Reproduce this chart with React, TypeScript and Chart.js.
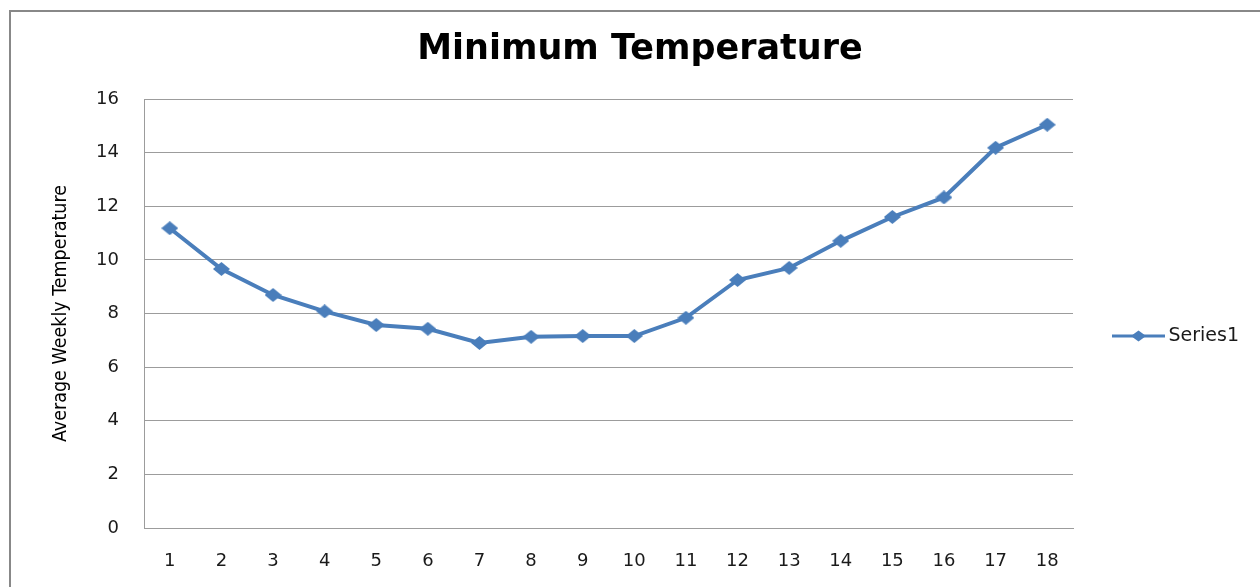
import { useEffect, useRef } from 'react';
import { Chart, registerables } from 'chart.js';

Chart.register(...registerables);

const chartTitle = 'Minimum Temperature';
const yAxisTitle = 'Average Weekly Temperature';
const seriesName = 'Series1';
const weeks = ['1', '2', '3', '4', '5', '6', '7', '8', '9', '10', '11', '12', '13', '14', '15', '16', '17', '18'];
const minTemps = [11.18, 9.66, 8.69, 8.08, 7.57, 7.43, 6.9, 7.13, 7.16, 7.16, 7.84, 9.25, 9.7, 10.71, 11.6, 12.33, 14.18, 15.04];
const yMin = 0;
const yMax = 16;
const yStep = 2;

const LINE = '#4a7ebb';
const GRID = '#9c9c9c';
const TICK_FONT = 'DejaVu Sans';

function makeDiamond(w: number, h: number): HTMLCanvasElement {
  const c = document.createElement('canvas');
  c.width = w;
  c.height = h;
  const ctx = c.getContext('2d')!;
  ctx.fillStyle = LINE;
  ctx.beginPath();
  ctx.moveTo(w / 2, 0);
  ctx.lineTo(w, h / 2);
  ctx.lineTo(w / 2, h);
  ctx.lineTo(0, h / 2);
  ctx.closePath();
  ctx.fill();
  return c;
}

function makeLegendMark(w: number, h: number): HTMLCanvasElement {
  const c = document.createElement('canvas');
  c.width = w;
  c.height = h;
  const ctx = c.getContext('2d')!;
  ctx.strokeStyle = LINE;
  ctx.lineWidth = 3;
  ctx.beginPath();
  ctx.moveTo(0, h / 2);
  ctx.lineTo(w, h / 2);
  ctx.stroke();
  const dw = 15;
  const dh = 11;
  ctx.fillStyle = LINE;
  ctx.beginPath();
  ctx.moveTo(w / 2, h / 2 - dh / 2);
  ctx.lineTo(w / 2 + dw / 2, h / 2);
  ctx.lineTo(w / 2, h / 2 + dh / 2);
  ctx.lineTo(w / 2 - dw / 2, h / 2);
  ctx.closePath();
  ctx.fill();
  return c;
}

export default function App() {
  const ref = useRef<HTMLCanvasElement | null>(null);

  useEffect(() => {
    if (!ref.current) return;
    const diamond = makeDiamond(17, 14);
    const legendMark = makeLegendMark(53, 14);
    const chart = new Chart(ref.current, {
      type: 'line',
      data: {
        labels: weeks,
        datasets: [
          {
            label: seriesName,
            data: minTemps,
            borderColor: LINE,
            backgroundColor: LINE,
            borderWidth: 4,
            pointStyle: diamond as any,
            pointRadius: 8,
            tension: 0,
          },
        ],
      },
      options: {
        animation: false,
        responsive: false,
        events: [],
        layout: { padding: { left: 35, right: 15, top: 0, bottom: 0 } },
        plugins: {
          tooltip: { enabled: false },
          title: {
            display: true,
            text: chartTitle,
            color: '#000',
            font: { family: TICK_FONT, size: 35, weight: 'bold', lineHeight: 1.2 },
            padding: { top: 29, bottom: 28 },
          },
          legend: {
            display: true,
            position: 'right',
            align: 'center',
            maxWidth: 172,
            title: {
              display: true,
              text: ' ',
              font: { size: 10, lineHeight: 1.2 },
              padding: 36.5,
            },
            labels: {
              usePointStyle: true,
              pointStyle: legendMark as any,
              pointStyleWidth: 41,
              padding: 45,
              color: '#1a1a1a',
              font: { family: TICK_FONT, size: 19 },
            },
          },
        },
        scales: {
          x: {
            type: 'category',
            offset: true,
            grid: { display: false, drawTicks: false },
            border: { display: true, color: GRID, width: 1 },
            ticks: {
              color: '#1a1a1a',
              padding: 23,
              maxRotation: 0,
              autoSkip: false,
              font: { family: TICK_FONT, size: 18 },
            },
            afterFit: (scale: any) => {
              scale.height = 59;
            },
          },
          y: {
            min: yMin,
            max: yMax,
            grid: { color: GRID, lineWidth: 1, drawTicks: false },
            border: { display: true, color: GRID, width: 1 },
            ticks: {
              stepSize: yStep,
              color: '#1a1a1a',
              padding: 25,
              font: { family: TICK_FONT, size: 18 },
            },
            title: {
              display: true,
              text: yAxisTitle,
              color: '#000',
              font: { family: '"Liberation Sans Narrow", "DejaVu Sans Condensed", "Liberation Sans"', size: 19.5, lineHeight: 1.2 },
              padding: { top: 14, bottom: 0 },
            },
            afterFit: (scale: any) => {
              scale.width = 109;
            },
          },
        },
      },
    });
    return () => chart.destroy();
  }, []);

  return (
    <div style={{ position: 'fixed', left: 0, top: 0, width: 1260, height: 587, overflow: 'hidden', background: '#fff' }}>
      <div
        style={{
          position: 'absolute',
          left: 9,
          top: 10,
          width: 1400,
          height: 800,
          borderLeft: '2px solid #888',
          borderTop: '2px solid #888',
        }}
      />
      <canvas ref={ref} width={1260} height={587} style={{ position: 'absolute', left: 0, top: 0, width: 1260, height: 587 }} />
    </div>
  );
}
